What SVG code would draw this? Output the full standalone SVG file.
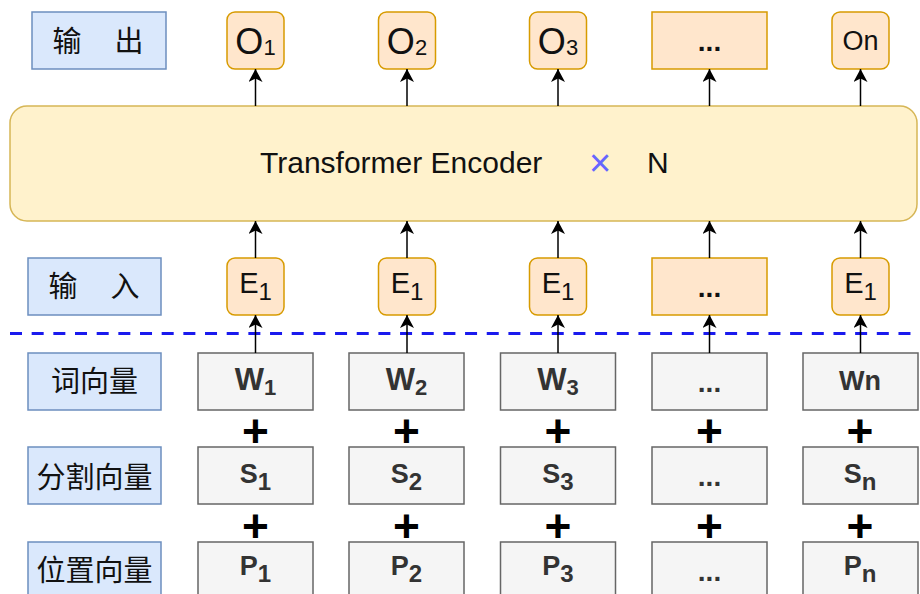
<svg xmlns="http://www.w3.org/2000/svg" width="920" height="594" viewBox="0 0 920 594">
<style>
.lbl{fill:#dae8fc;stroke:#6c8ebf;stroke-width:1.5}
.org{fill:#ffe6cc;stroke:#d79b00;stroke-width:1.5}
.gry{fill:#f5f5f5;stroke:#666666;stroke-width:1.5}
.enc{fill:#fff2cc;stroke:#d6b656;stroke-width:1.5}
.cjk{font-family:"Noto Sans CJK SC","Noto Sans CJK JP",sans-serif;font-size:29px;fill:#111;text-anchor:middle}
.t{font-family:"Liberation Sans",Arial,sans-serif;fill:#111;text-anchor:middle}
.b{font-family:"Liberation Sans",Arial,sans-serif;font-weight:bold;fill:#333;text-anchor:middle}
.plus{font-family:"Liberation Sans",Arial,sans-serif;font-weight:bold;font-size:46px;fill:#000;text-anchor:middle}
.conn{stroke:#000;stroke-width:1.5;fill:none;marker-end:url(#arr)}
</style>
<defs>
<marker id="arr" viewBox="0 0 13 14" refX="13" refY="7" markerWidth="13" markerHeight="14" markerUnits="userSpaceOnUse" orient="auto">
<path d="M0,0 L13,7 L0,14 L3.5,7 Z" fill="#000"/>
</marker>
</defs>
<rect width="920" height="594" fill="#ffffff"/>

<!-- row labels -->
<g id="label-output"><rect class="lbl" x="32" y="12" width="134" height="57"/><text class="cjk" x="99" y="52" letter-spacing="2">输　出</text></g>
<g id="label-input"><rect class="lbl" x="28" y="258" width="133" height="57"/><text class="cjk" x="95" y="297" letter-spacing="2">输　入</text></g>
<g id="label-word"><rect class="lbl" x="28" y="353" width="133" height="57"/><text class="cjk" x="94.5" y="392">词向量</text></g>
<g id="label-seg"><rect class="lbl" x="28" y="447" width="133" height="57"/><text class="cjk" x="94.5" y="488">分割向量</text></g>
<g id="label-pos"><rect class="lbl" x="28" y="542" width="133" height="57"/><text class="cjk" x="94.5" y="581">位置向量</text></g>

<!-- encoder -->
<g id="encoder"><rect class="enc" x="10" y="106" width="907" height="115" rx="17"/>
<text class="t" x="260" y="173" font-size="30" style="text-anchor:start">Transformer Encoder</text>
<text class="t" x="600" y="176" font-size="38" style="fill:#6666ff">×</text>
<text class="t" x="647" y="173" font-size="30" style="text-anchor:start">N</text>
</g>

<!-- outputs -->
<g id="O1"><rect class="org" x="227" y="12" width="57" height="57" rx="8"/><text class="t" x="255.5" y="54" font-size="36">O<tspan font-size="22" dy="1">1</tspan></text></g>
<g id="O2"><rect class="org" x="378.5" y="12" width="57" height="57" rx="8"/><text class="t" x="407" y="54" font-size="36">O<tspan font-size="22" dy="1">2</tspan></text></g>
<g id="O3"><rect class="org" x="529.5" y="12" width="57" height="57" rx="8"/><text class="t" x="558" y="54" font-size="36">O<tspan font-size="22" dy="1">3</tspan></text></g>
<g id="Odots"><rect class="org" x="652" y="12" width="115" height="57"/><text class="t" x="709.5" y="51" font-size="28" font-weight="bold">...</text></g>
<g id="On"><rect class="org" x="832" y="12" width="57" height="57" rx="8"/><text class="t" x="860.5" y="50" font-size="27">On</text></g>

<!-- inputs E -->
<g id="E1a"><rect class="org" x="227" y="258" width="57" height="57" rx="8"/><text class="t" x="255.5" y="293" font-size="29">E<tspan font-size="24" dy="7">1</tspan></text></g>
<g id="E1b"><rect class="org" x="378.5" y="258" width="57" height="57" rx="8"/><text class="t" x="407" y="293" font-size="29">E<tspan font-size="24" dy="7">1</tspan></text></g>
<g id="E1c"><rect class="org" x="529.5" y="258" width="57" height="57" rx="8"/><text class="t" x="558" y="293" font-size="29">E<tspan font-size="24" dy="7">1</tspan></text></g>
<g id="Edots"><rect class="org" x="652" y="258" width="115" height="57"/><text class="t" x="709.5" y="297" font-size="28" font-weight="bold">...</text></g>
<g id="E1e"><rect class="org" x="832" y="258" width="57" height="57" rx="8"/><text class="t" x="860.5" y="293" font-size="29">E<tspan font-size="24" dy="7">1</tspan></text></g>

<!-- separator -->
<g id="separator"><line x1="10" y1="333.5" x2="920" y2="333.5" stroke="#1a1aee" stroke-width="3" stroke-dasharray="12 9.67"/></g>

<!-- word vectors -->
<g id="W1"><rect class="gry" x="198" y="353" width="115" height="57"/><text class="b" x="255.5" y="390" font-size="31">W<tspan font-size="22" dy="5">1</tspan></text></g>
<g id="W2"><rect class="gry" x="349" y="353" width="115" height="57"/><text class="b" x="406.5" y="390" font-size="31">W<tspan font-size="22" dy="5">2</tspan></text></g>
<g id="W3"><rect class="gry" x="500.5" y="353" width="115" height="57"/><text class="b" x="558" y="390" font-size="31">W<tspan font-size="22" dy="5">3</tspan></text></g>
<g id="Wdots"><rect class="gry" x="652" y="353" width="115" height="57"/><text class="b" x="709.5" y="392" font-size="28">...</text></g>
<g id="Wn"><rect class="gry" x="803" y="353" width="115" height="57"/><text class="b" x="860" y="390" font-size="27">Wn</text></g>

<!-- segment vectors -->
<g id="S1"><rect class="gry" x="198" y="447" width="115" height="57"/><text class="b" x="255.5" y="483" font-size="27">S<tspan font-size="24" dy="7">1</tspan></text></g>
<g id="S2"><rect class="gry" x="349" y="447" width="115" height="57"/><text class="b" x="406.5" y="483" font-size="27">S<tspan font-size="24" dy="7">2</tspan></text></g>
<g id="S3"><rect class="gry" x="500.5" y="447" width="115" height="57"/><text class="b" x="558" y="483" font-size="27">S<tspan font-size="24" dy="7">3</tspan></text></g>
<g id="Sdots"><rect class="gry" x="652" y="447" width="115" height="57"/><text class="b" x="709.5" y="486" font-size="28">...</text></g>
<g id="Sn"><rect class="gry" x="803" y="447" width="115" height="57"/><text class="b" x="860" y="483" font-size="27">S<tspan font-size="24" dy="7">n</tspan></text></g>

<!-- position vectors -->
<g id="P1"><rect class="gry" x="198" y="542" width="115" height="57"/><text class="b" x="255.5" y="575" font-size="27">P<tspan font-size="24" dy="7">1</tspan></text></g>
<g id="P2"><rect class="gry" x="349" y="542" width="115" height="57"/><text class="b" x="406.5" y="575" font-size="27">P<tspan font-size="24" dy="7">2</tspan></text></g>
<g id="P3"><rect class="gry" x="500.5" y="542" width="115" height="57"/><text class="b" x="558" y="575" font-size="27">P<tspan font-size="24" dy="7">3</tspan></text></g>
<g id="Pdots"><rect class="gry" x="652" y="542" width="115" height="57"/><text class="b" x="709.5" y="581" font-size="28">...</text></g>
<g id="Pn"><rect class="gry" x="803" y="542" width="115" height="57"/><text class="b" x="860" y="575" font-size="27">P<tspan font-size="24" dy="7">n</tspan></text></g>

<!-- plus signs -->
<g id="plus">
<text class="plus" x="255.5" y="446.5">+</text><text class="plus" x="406.5" y="446.5">+</text><text class="plus" x="558" y="446.5">+</text><text class="plus" x="709.5" y="446.5">+</text><text class="plus" x="860" y="446.5">+</text>
<text class="plus" x="255.5" y="541.5">+</text><text class="plus" x="406.5" y="541.5">+</text><text class="plus" x="558" y="541.5">+</text><text class="plus" x="709.5" y="541.5">+</text><text class="plus" x="860" y="541.5">+</text>
</g>

<!-- connectors -->
<g id="connectors">
<path class="conn" d="M255.5 106 V69"/><path class="conn" d="M407 106 V69"/><path class="conn" d="M558 106 V69"/><path class="conn" d="M709.5 106 V69"/><path class="conn" d="M860.5 106 V69"/>
<path class="conn" d="M255.5 258 V221"/><path class="conn" d="M407 258 V221"/><path class="conn" d="M558 258 V221"/><path class="conn" d="M709.5 258 V221"/><path class="conn" d="M860.5 258 V221"/>
<path class="conn" d="M255.5 353 V315"/><path class="conn" d="M407 353 V315"/><path class="conn" d="M558 353 V315"/><path class="conn" d="M709.5 353 V315"/><path class="conn" d="M860.5 353 V315"/>
</g>
</svg>
